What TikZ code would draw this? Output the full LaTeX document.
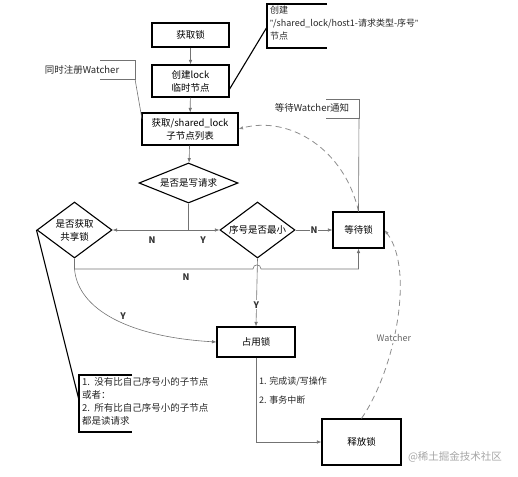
\documentclass[tikz,border=0pt]{standalone}
\usepackage{fontspec}
\setmainfont{Noto Sans CJK SC}
\newfontfamily\quotefont{Liberation Sans}
\usetikzlibrary{shapes.geometric,arrows.meta}
\begin{document}
\begin{tikzpicture}[x=1pt,y=-1pt,
  font=\fontsize{9.5}{13}\selectfont,
  box/.style={draw=black,line width=1.1pt,fill=white,align=center,inner sep=0pt},
  dia/.style={draw=black,line width=1.1pt,diamond,align=center,inner sep=0pt,fill=white},
  conn/.style={draw=black!55,line width=0.6pt},
  arr/.style={conn,-{Latex[length=4.5pt,width=3.5pt]}},
  wdash/.style={draw=black!45,line width=0.8pt,dash pattern=on 6pt off 4pt,-{Latex[length=4.5pt,width=3.5pt]}},
  brk/.style={draw=black!55,line width=0.6pt},
  lead/.style={draw=black,line width=1.1pt},
  lbl/.style={inner sep=1pt,fill=white,font=\bfseries\fontsize{9}{11}\selectfont,text=black!80},
  note/.style={text=black!85,inner sep=0pt}]
\useasboundingbox (0,0) rectangle (518,476);

% boxes
\node[box,minimum width=77pt,minimum height=24pt] (n1) at (190.5,35) {获取锁};
\node[box,minimum width=77pt,minimum height=32pt] (n2) at (190.5,81) {创建lock\\临时节点};
\node[box,minimum width=96pt,minimum height=32pt] (n3) at (190,129) {获取/shared\_lock\\子节点列表};
\node[dia,minimum width=99pt,minimum height=40pt,aspect=2.5] (d1) at (188.5,183) {是否是写请求};
\node[dia,minimum width=75pt,minimum height=56pt,aspect=1.3] (d2) at (74.5,230) {是否获取\\共享锁};
\node[dia,minimum width=75pt,minimum height=56pt,aspect=1.5] (d3) at (257.5,230) {序号是否最小};
\node[box,minimum width=51pt,minimum height=36pt] (n4) at (358.5,230) {等待锁};
\node[box,minimum width=78pt,minimum height=30pt] (n5) at (256,342) {占用锁};
\node[box,minimum width=79pt,minimum height=46pt] (n6) at (361.5,442) {释放锁};

% main connectors
\draw[arr] (n1) -- (n2);
\draw[arr] (n2) -- (n3);
\draw[arr] (n3) -- (d1);
\coordinate (j1) at (188.5,230);
\draw[conn] (d1.south) -- (j1);
\draw[arr] (j1) -- (d2.east);
\draw[arr] (j1) -- (d3.west);
\node[lbl,fill=none] (lN1) at (152,240) {N};
\node[lbl,fill=none] (lY1) at (203,240) {Y};
\draw[arr] (d3.east) -- (n4.west) node[lbl,midway] (lN2) {N};

\coordinate (j2) at (74.5,269);
\draw[arr] (d2.south) -- (j2) -- (253,269) .. controls (253,263.5) and (261,263.5) .. (261,269) -- (358.5,269) -- (n4.south);
\node[lbl,fill=none] (lN3) at (186,277) {N};
\draw[arr] (j2) .. controls (78,310) and (130,337) .. (n5.west);
\node[lbl,fill=none] (lY2) at (123,316) {Y};
\draw[arr] (d3.south) -- (n5.north) node[lbl,pos=0.68] (lY3) {Y};

\coordinate (j3) at (256,442);
\draw[arr] (n5.south) -- (j3) -- (n6.west);
\node[note,anchor=west,font=\fontsize{9}{11}\selectfont] (t1) at (259,381) {1. 完成读/写操作};
\node[note,anchor=west,font=\fontsize{9}{11}\selectfont] (t2) at (259,400) {2. 事务中断};

% dashed watcher connectors
\draw[wdash] (n6.north) .. controls (395,370) and (415,270) .. (n4.east)
  node[pos=0.42,fill=white,inner sep=1pt,text=black!60,font=\fontsize{9}{11}\selectfont] (lw) {Watcher};
\draw[wdash] (n4.north) .. controls (345,150) and (290,115) .. (n3.east);

% annotation: 同时注册Watcher
\node[note] (a1) at (82,70) {同时注册Watcher};
\coordinate (a1b) at (135,79);
\coordinate (a1e) at (142,119);
\draw[brk] (100,60) -- (135,60) -- (a1b) -- (100,79);
\draw[brk] (a1b) -- (a1e);

% annotation: 创建节点
\node[note,anchor=north west,align=left,font=\fontsize{9}{13}\selectfont] (a2) at (270,6) {创建\\{\quotefont ”}/shared\_lock/host1-请求类型-序号{\quotefont ”}\\节点};
\coordinate (a2b) at (267,27);
\coordinate (a2e) at (229,90);
\draw[lead] (327,4) -- (267,4) -- (267,48) -- (327,48);
\draw[lead] (a2b) -- (a2e);

% annotation: 等待Watcher通知
\node[note] (a3) at (312,108) {等待Watcher通知};
\coordinate (a3b) at (359,118);
\draw[brk] (326,99) -- (359,99) -- (a3b) -- (326,118);
\draw[brk] (a3b) -- (n4.north);

% annotation: 共享锁条件
\node[note,anchor=north west,align=left,font=\fontsize{9.5}{13}\selectfont] (a4) at (82,377) {1.\ \ 没有比自己序号小的子节点\\或者：\\2.\ \ 所有比自己序号小的子节点\\都是读请求};
\coordinate (a4b) at (79,400);
\draw[lead] (132,375) -- (79,375) -- (79,432) -- (132,432);
\draw[lead] (d2.west) -- (a4b);

% watermark
\node[text=black!35,font=\fontsize{10.5}{12}\selectfont,inner sep=0pt] (wm) at (455,457) {@稀土掘金技术社区};
\end{tikzpicture}
\end{document}
